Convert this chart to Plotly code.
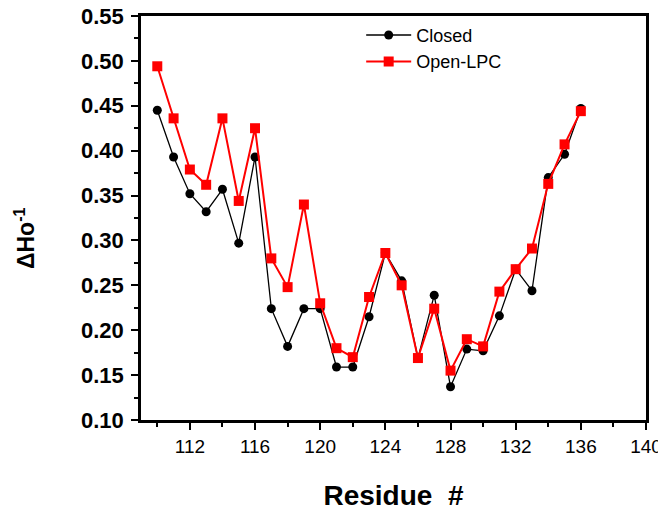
import plotly.graph_objects as go

residues = list(range(110, 137))
closed = [0.445, 0.393, 0.352, 0.332, 0.357, 0.297, 0.393, 0.224, 0.182, 0.224,
          0.224, 0.159, 0.159, 0.215, 0.286, 0.255, 0.169, 0.239, 0.137, 0.179,
          0.177, 0.216, 0.268, 0.244, 0.370, 0.396, 0.447]
open_lpc = [0.494, 0.436, 0.379, 0.362, 0.436, 0.344, 0.425, 0.280, 0.248, 0.340,
            0.230, 0.180, 0.170, 0.237, 0.286, 0.250, 0.169, 0.224, 0.155, 0.190,
            0.182, 0.243, 0.268, 0.291, 0.363, 0.407, 0.444]

FONT = "Liberation Sans, Arial, sans-serif"

fig = go.Figure()
fig.add_trace(go.Scatter(
    x=residues, y=closed, name="Closed", mode="lines+markers",
    line=dict(color="black", width=1.3),
    marker=dict(symbol="circle", size=9, color="black"),
))
fig.add_trace(go.Scatter(
    x=residues, y=open_lpc, name="Open-LPC", mode="lines+markers",
    line=dict(color="#ff0000", width=2),
    marker=dict(symbol="square", size=10, color="#ff0000"),
))

fig.update_layout(
    width=658, height=503,
    margin=dict(l=133, r=20, t=8, b=91, autoexpand=False),
    paper_bgcolor="white", plot_bgcolor="white",
    font=dict(family=FONT, color="black"),
    showlegend=True,
    legend=dict(x=0.436, y=0.998, xanchor="left", yanchor="top",
                bgcolor="rgba(0,0,0,0)", font=dict(size=18, family=FONT),
                itemwidth=45, tracegroupgap=0),
)

fig.update_xaxes(
    range=[109, 140], showgrid=False, zeroline=False, automargin=False,
    showline=True, linecolor="black", linewidth=2.5, mirror=True,
    ticks="outside", ticklen=7, tickwidth=2, tickcolor="black",
    tick0=112, dtick=4, ticklabeloverflow="allow",
    minor=dict(ticks="outside", ticklen=4, tickwidth=2, tickcolor="black", tick0=110, dtick=2),
    tickfont=dict(size=19, family=FONT, color="black"),
    title=dict(text="<b>Residue  #</b>", font=dict(size=28, family=FONT), standoff=32),
)
fig.update_yaxes(
    range=[0.10, 0.55], showgrid=False, zeroline=False, automargin=False,
    showline=True, linecolor="black", linewidth=2.5, mirror=True,
    ticks="outside", ticklen=7, tickwidth=2, tickcolor="black",
    tick0=0.10, dtick=0.05, tickformat=".2f", ticklabelstandoff=3,
    ticklabeloverflow="allow",
    minor=dict(ticks="outside", ticklen=4, tickwidth=2, tickcolor="black", dtick=0.025),
    tickfont=dict(size=22, family=FONT, color="black"),
    tickprefix="<b>", ticksuffix="</b>",
)

fig.add_annotation(
    text="<b>ΔHo<sup>-1</sup></b>", xref="paper", yref="paper",
    x=-0.23, y=0.45, xanchor="center", yanchor="middle",
    textangle=-90, showarrow=False, font=dict(size=23, family=FONT, color="black"),
)

fig.write_html("out.html")
